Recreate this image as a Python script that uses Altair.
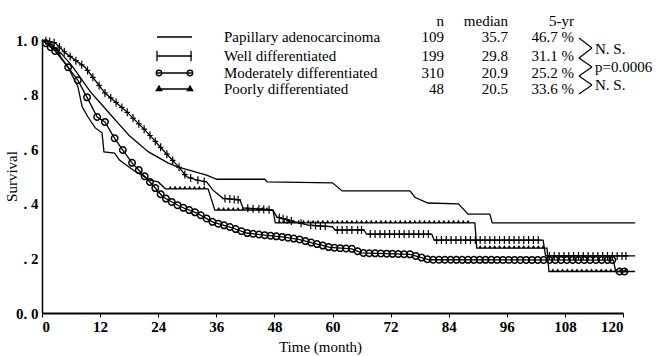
import altair as alt
import pandas as pd
import numpy as np

# ---- Kaplan-Meier curves (time in months, cumulative survival) ----
pap_t = [0, 2, 4, 6, 8, 10, 12, 14, 16, 18, 20, 22, 24, 26, 28, 30, 32, 34, 36.1,
         46, 46.5, 60, 62, 76, 77, 79.7, 86, 88, 92.5, 93, 122.5]
pap_s = [1.0, 0.98, 0.95, 0.91, 0.86, 0.81, 0.77, 0.73, 0.69, 0.65, 0.62, 0.59, 0.57,
         0.55, 0.535, 0.525, 0.515, 0.505, 0.49, 0.49, 0.48, 0.477, 0.447, 0.447,
         0.424, 0.403, 0.40, 0.362, 0.362, 0.33, 0.33]

well_t = [0, 2.7, 5, 8.9, 13, 17.1, 21.3, 25, 28.5, 29.8, 32, 34, 35.3, 37.4, 40.9,
          41.5, 47.7, 48.5, 52, 55, 60, 60.5, 66.5, 67, 80.5, 81, 103.5, 104, 122.5]
well_s = [1.0, 0.99, 0.95, 0.90, 0.806, 0.744, 0.67, 0.597, 0.53, 0.50, 0.487, 0.48,
          0.45, 0.42, 0.414, 0.385, 0.377, 0.352, 0.335, 0.322, 0.316, 0.304, 0.304,
          0.289, 0.289, 0.267, 0.267, 0.209, 0.209]

mod_t = [0, 2.7, 5.4, 7.4, 9.3, 11.4, 13, 15, 16.7, 18.6, 22.3, 25, 28.5, 32, 35.3,
         38.8, 42.3, 46, 50, 53, 56, 59.5, 64, 66, 76, 78, 80, 118, 118.5, 121]
mod_s = [1.0, 0.96, 0.90, 0.853, 0.79, 0.718, 0.70, 0.64, 0.597, 0.55, 0.48, 0.425,
         0.39, 0.366, 0.333, 0.315, 0.293, 0.285, 0.278, 0.27, 0.256, 0.24, 0.235,
         0.22, 0.215, 0.205, 0.195, 0.194, 0.152, 0.152]

poor_t = [0, 3, 5.4, 7.4, 8.3, 9.5, 11, 12.4, 12.8, 15, 16, 18.8, 22.3, 24, 25.5,
          34.3, 35.7, 47.7, 48.2, 89.4, 89.8, 104.3, 104.7, 122.5]
poor_s = [1.0, 0.96, 0.90, 0.83, 0.755, 0.718, 0.678, 0.66, 0.59, 0.586, 0.56, 0.524,
          0.487, 0.48, 0.455, 0.455, 0.377, 0.377, 0.33, 0.33, 0.238, 0.238, 0.152,
          0.152]

# ---- censoring marks (months) ----
well_cens = [0.8, 1.6, 2.5, 3.6, 4.6, 5.8, 7.0, 8.2, 9.4, 10.5, 11.8, 13.0, 14.2, 15.3,
             16.5, 17.6, 18.8, 20.0, 21.1, 22.3, 23.4, 24.5, 25.8, 27.0, 28.3, 29.5,
             30.7, 32.2, 33.5, 37.8, 38.8, 39.7, 40.5, 42.5, 43.6, 44.8, 45.8, 46.9,
             49.0, 49.8, 50.6, 51.5, 53.5, 55.5, 56.5, 57.5, 58.5, 61.0, 62.0, 63.0,
             64.0, 65.2, 66.0, 67.8, 68.8, 69.8, 70.8, 71.8, 72.8, 73.8, 74.8, 75.8,
             76.8, 77.8, 78.8, 79.8, 81.5, 82.5, 83.5, 84.5, 85.5, 86.5, 87.5, 88.5,
             89.5, 90.5, 91.5, 92.5, 93.5, 94.5, 95.5, 96.5, 97.5, 98.5, 99.5, 100.5,
             101.5, 102.5, 104.8, 105.8, 106.8, 107.8, 108.8, 109.8, 110.8, 111.8,
             112.8, 113.8, 114.8, 115.8, 116.8, 117.8, 118.8, 119.8, 120.6]
mod_cens = [0.8, 1.8, 2.7, 5.4, 7.4, 9.3, 11.4, 13.0, 15.0, 16.7, 18.6, 20.0, 21.2,
            22.3, 23.4, 24.5, 25.6, 26.8, 28.0, 29.2, 30.4, 31.6, 32.8, 34.0, 35.2,
            36.4, 37.6, 38.8, 40.0, 41.2, 42.4, 43.6, 44.8, 46.0, 47.2, 48.4, 49.6,
            50.8, 52.0, 53.2, 54.4, 55.6, 56.8, 58.0, 59.2, 60.4, 61.6, 62.8, 64.0,
            65.2, 66.4, 67.6, 68.8, 70.0, 71.2, 72.4, 73.6, 74.8, 76.0, 77.2, 78.4,
            79.6, 80.8, 82.0, 83.2, 84.4, 85.6, 86.8, 88.0, 89.2, 90.4, 91.6, 92.8,
            94.0, 95.2, 96.4, 97.6, 98.8, 100.0, 101.2, 102.4, 103.6, 104.8, 106.0,
            107.2, 108.4, 109.6, 110.8, 112.0, 113.2, 114.4, 115.6, 116.8, 117.8,
            119.3, 120.3]
poor_cens = [1.5, 3.5, 26.5, 27.5, 28.5, 29.5, 30.5, 31.5, 32.5, 33.5, 36.5, 37.5,
             38.5, 39.5, 40.5, 41.5, 42.5, 43.5, 44.5, 45.5, 46.5, 49.0, 50.0, 51.0,
             52.0, 53.0, 54.0, 55.0, 56.0, 57.0, 58.0, 59.0, 60.0, 61.0, 62.0, 63.0,
             64.0, 65.0, 66.0, 67.0, 68.0, 69.0, 70.0, 71.0, 72.0, 73.0, 74.0, 75.0,
             76.0, 77.0, 78.0, 79.0, 80.0, 81.0, 82.0, 83.0, 84.0, 85.0, 86.0, 87.0,
             88.0, 90.5, 91.5, 92.5, 93.5, 94.5, 95.5, 96.5, 97.5, 98.5, 99.5, 100.5,
             101.5, 102.5, 103.5, 105.5, 106.5, 107.5, 108.5, 109.5, 110.5, 111.5,
             112.5, 113.5, 114.5, 115.5, 116.5, 117.5, 118.5, 119.5, 120.5]

# ---- legend table ----
groups = ["Papillary adenocarcinoma", "Well differentiated",
          "Moderately differentiated", "Poorly differentiated"]
n_vals = ["109", "199", "310", "48"]
medians = ["35.7", "29.8", "20.9", "20.5"]
five_yr = ["46.7 %", "31.1 %", "25.2 %", "33.6 %"]
headers = ["n", "median", "5-yr"]
tests = ["N. S.", "p=0.0006", "N. S."]

x_ticks = [0, 6, 12, 18, 24, 30, 36, 42, 48, 54, 60, 66, 72, 78, 84, 90, 96, 102,
           108, 114, 120]
y_ticks = [0, 0.2, 0.4, 0.6, 0.8, 1.0]

SERIF = "Liberation Serif"

curves = pd.concat([
    pd.DataFrame({"group": g, "time": t, "surv": s, "i": range(len(t))})
    for g, t, s in [("pap", pap_t, pap_s), ("well", well_t, well_s),
                    ("mod", mod_t, mod_s), ("poor", poor_t, poor_s)]
])


def marks_on_curve(times, ct, cs):
    # a censored observation sits on its curve at the time of censoring
    return pd.DataFrame({"time": times, "surv": np.interp(times, ct, cs)})


x_enc = alt.X("time:Q", scale=alt.Scale(domain=[0, 120], nice=False),
              axis=alt.Axis(values=x_ticks, title="Time (month)",
                            labelExpr="datum.value % 12 == 0 ? datum.label : ''",
                            tickSize=4, labelPadding=2, titlePadding=5,
                            titleX=278, domainWidth=2))
y_enc = alt.Y("surv:Q", scale=alt.Scale(domain=[0, 1], nice=False),
              axis=alt.Axis(values=y_ticks, title="Survival",
                            labelExpr="datum.value == 0 ? '0. 0' : datum.value == 1 ? '1. 0' : '. ' + round(datum.value * 10)",
                            tickSize=0, labelPadding=4,
                            titleX=-31, titleY=136, titleAngle=270,
                            titleAlign="center", titleBaseline="middle",
                            domainWidth=1.5))

lines = alt.Chart(curves).mark_line(color="black", strokeWidth=1.3).encode(
    x=x_enc, y=y_enc, detail="group:N", order="i:Q")

plus_path = "M0,-1L0,1M-0.7,0L0.7,0"
well_pts = alt.Chart(marks_on_curve(well_cens, well_t, well_s)).mark_point(
    shape=plus_path, size=64, color="black", strokeWidth=1.2, filled=False,
    opacity=1).encode(x="time:Q", y="surv:Q")
mod_pts = alt.Chart(marks_on_curve(mod_cens, mod_t, mod_s)).mark_point(
    shape="circle", size=42, color="black", strokeWidth=1.5, filled=False,
    opacity=1).encode(x="time:Q", y="surv:Q")
poor_pts = alt.Chart(marks_on_curve(poor_cens, poor_t, poor_s)).mark_point(
    shape="triangle-up", size=14, color="black", filled=True, opacity=1,
    yOffset=-1.5).encode(x="time:Q", y="surv:Q")

one = alt.Data(values=[{"k": 0}])


def label(x, y, s, align="left", size=15):
    return alt.Chart(one).mark_text(
        text=s, align=align, baseline="middle", font=SERIF, fontSize=size,
        color="black").encode(x=alt.value(x), y=alt.value(y))


def seg(x1, y1, x2, y2, w=1.3):
    return alt.Chart(one).mark_rule(color="black", strokeWidth=w).encode(
        x=alt.value(x1), y=alt.value(y1), x2=alt.value(x2), y2=alt.value(y2))


def sym(x, y, shape, size, filled, w=1.3):
    return alt.Chart(one).mark_point(
        shape=shape, size=size, filled=filled, color="black", opacity=1,
        strokeWidth=w).encode(x=alt.value(x), y=alt.value(y))


# legend, in pixels of the plot area (origin at its top-left corner)
OX, OY = 42, 40
rows_y = [y - OY for y in (37, 56, 73, 89)]
head_y = 21 - OY
legend = []
for k, g in enumerate(groups):
    ry = rows_y[k]
    legend.append(seg(157 - OX, ry, 192 - OX, ry))
    legend.append(label(224 - OX, ry, g))
    legend.append(label(444 - OX, ry, n_vals[k], "right"))
    legend.append(label(508 - OX, ry, medians[k], "right"))
    legend.append(label(574 - OX, ry, five_yr[k], "right"))
legend.append(sym(157 - OX, rows_y[1], "M0,-1L0,1", 110, False))
legend.append(sym(191 - OX, rows_y[1], "M0,-1L0,1", 110, False))
legend.append(sym(159 - OX, rows_y[2], "circle", 30, False))
legend.append(sym(190 - OX, rows_y[2], "circle", 30, False))
legend.append(sym(159 - OX, rows_y[3] - 1, "triangle-up", 60, True))
legend.append(sym(190 - OX, rows_y[3] - 1, "triangle-up", 60, True))
for x, h in zip((444, 508, 574), headers):
    legend.append(label(x - OX, head_y, h, "right"))

# pairwise comparison brackets
zig_x = [579, 592]
zig_y = [38, 48, 58, 67, 76, 85, 94]
for j in range(len(zig_y) - 1):
    xa = zig_x[j % 2] - OX
    xb = zig_x[(j + 1) % 2] - OX
    legend.append(seg(xa, zig_y[j] - OY, xb, zig_y[j + 1] - OY, 1.2))
for y, s in zip((49, 67, 85), tests):
    legend.append(label(595 - OX, y - OY, s))

chart = alt.layer(lines, well_pts, mod_pts, poor_pts, *legend).properties(
    width=581, height=273,
    background="white",
    autosize=alt.AutoSizeParams(type="none"),
    padding={"left": 42, "top": 40, "right": 35, "bottom": 43},
).configure_view(stroke=None).configure_axis(
    grid=False, domainColor="black", tickColor="black", labelColor="black",
    titleColor="black", labelFont=SERIF, titleFont=SERIF, labelFontSize=15,
    labelFontWeight="bold", titleFontSize=15, titleFontWeight="normal",
)

chart.save("out.html", embed_options={"renderer": "svg", "actions": False})
